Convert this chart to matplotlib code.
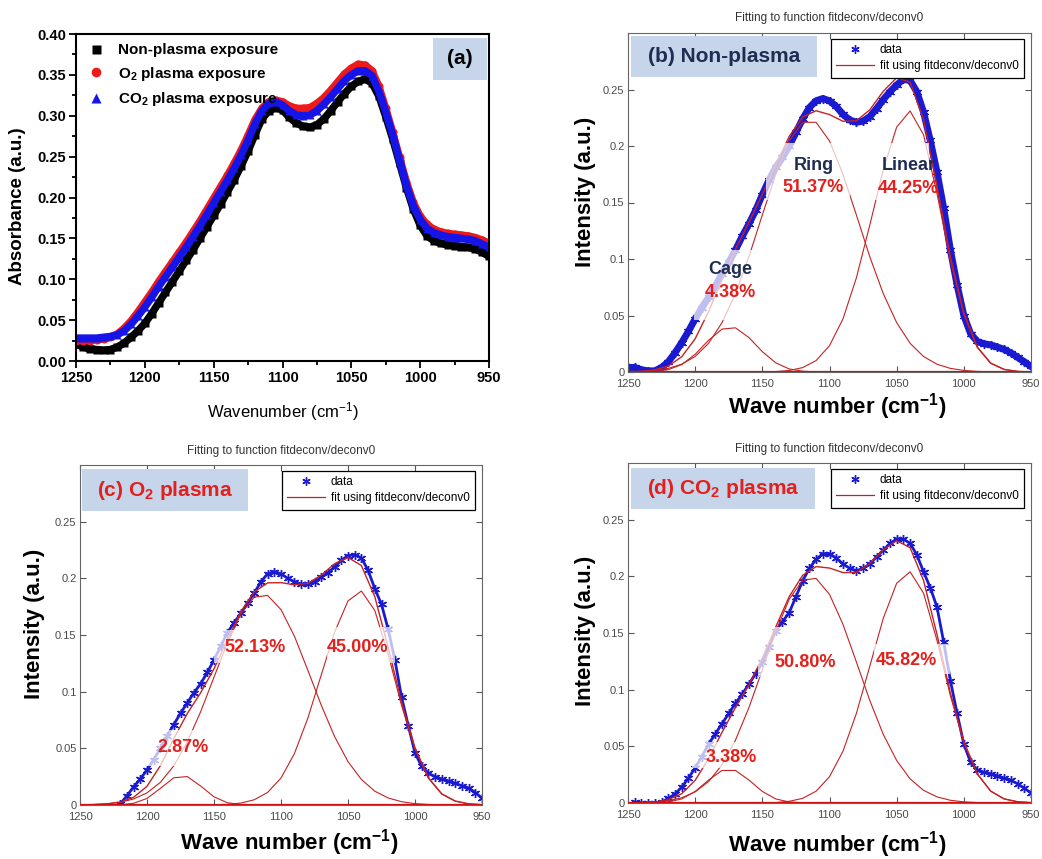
import matplotlib
matplotlib.use("Agg")
import matplotlib.pyplot as plt
from matplotlib.patches import Rectangle
from matplotlib.lines import Line2D
from matplotlib.ticker import MultipleLocator
import numpy as np

plt.rcParams["font.family"] = ["Liberation Sans", "DejaVu Sans"]
plt.rcParams["mathtext.fontset"] = "custom"
plt.rcParams["mathtext.rm"] = "Liberation Sans"
plt.rcParams["mathtext.bf"] = "Liberation Sans:bold"
plt.rcParams["mathtext.it"] = "Liberation Sans:italic"

W, H = 1042, 859

# ---------------- panel (a): absorbance spectra ----------------
WN_A = list(range(1250, 945, -5))
ABS_NON = [
    0.021, 0.017, 0.015, 0.014, 0.013, 0.014, 0.017, 0.022, 0.029, 0.037,
    0.046, 0.058, 0.071, 0.084, 0.097, 0.110, 0.123, 0.136, 0.150, 0.164,
    0.178, 0.192, 0.207, 0.222, 0.239, 0.257, 0.277, 0.296, 0.306, 0.310,
    0.307, 0.298, 0.291, 0.287, 0.286, 0.289, 0.296, 0.306, 0.317, 0.327,
    0.336, 0.342, 0.345, 0.340, 0.324, 0.299, 0.272, 0.242, 0.212, 0.186,
    0.166, 0.153, 0.147, 0.144, 0.142, 0.141, 0.140, 0.139, 0.137, 0.133,
    0.128,
]
ABS_O2 = [
    0.025, 0.025, 0.025, 0.026, 0.027, 0.029, 0.033, 0.040, 0.049, 0.060,
    0.072, 0.084, 0.097, 0.109, 0.121, 0.133, 0.145, 0.158, 0.171, 0.185,
    0.199, 0.213, 0.227, 0.242, 0.258, 0.276, 0.295, 0.309, 0.317, 0.319,
    0.317, 0.312, 0.309, 0.309, 0.310, 0.315, 0.322, 0.331, 0.341, 0.351,
    0.358, 0.363, 0.362, 0.355, 0.336, 0.309, 0.280, 0.249, 0.219, 0.194,
    0.177, 0.167, 0.161, 0.158, 0.156, 0.155, 0.154, 0.153, 0.151, 0.148,
    0.144,
]
ABS_CO2 = [
    0.028, 0.028, 0.028, 0.028, 0.029, 0.030, 0.032, 0.037, 0.045, 0.055,
    0.066, 0.078, 0.091, 0.103, 0.115, 0.127, 0.139, 0.152, 0.165, 0.179,
    0.193, 0.207, 0.221, 0.236, 0.252, 0.270, 0.290, 0.306, 0.315, 0.317,
    0.313, 0.306, 0.301, 0.300, 0.301, 0.306, 0.314, 0.323, 0.333, 0.343,
    0.350, 0.355, 0.355, 0.349, 0.330, 0.305, 0.277, 0.246, 0.215, 0.190,
    0.173, 0.162, 0.157, 0.154, 0.152, 0.151, 0.150, 0.149, 0.147, 0.143,
    0.139,
]

# ---------------- panels (b)-(d): measured data ----------------
WN_B = list(range(1250, 945, -5))
INT_B = [
    0.004, 0.004, 0.002, 0.001, 0.001, 0.004, 0.009, 0.017, 0.026, 0.036,
    0.047, 0.057, 0.066, 0.076, 0.087, 0.097, 0.108, 0.120, 0.131, 0.143,
    0.157, 0.170, 0.181, 0.190, 0.200, 0.212, 0.224, 0.234, 0.240, 0.242,
    0.240, 0.235, 0.228, 0.223, 0.221, 0.222, 0.226, 0.233, 0.241, 0.248,
    0.254, 0.259, 0.258, 0.248, 0.230, 0.205, 0.177, 0.145, 0.108, 0.077,
    0.050, 0.034, 0.027, 0.025, 0.024, 0.022, 0.020, 0.017, 0.013, 0.009,
    0.005,
]
WN_C = list(range(1220, 945, -5))
INT_C = [
    0.001, 0.008, 0.016, 0.023, 0.031, 0.040, 0.050, 0.061, 0.071, 0.081,
    0.090, 0.099, 0.107, 0.117, 0.128, 0.140, 0.152, 0.161, 0.169, 0.178,
    0.187, 0.197, 0.204, 0.206, 0.204, 0.200, 0.197, 0.195, 0.195, 0.197,
    0.201, 0.205, 0.210, 0.216, 0.220, 0.221, 0.218, 0.207, 0.191, 0.177,
    0.155, 0.128, 0.095, 0.070, 0.046, 0.034, 0.028, 0.025, 0.023, 0.021,
    0.019, 0.017, 0.015, 0.011, 0.006,
]
WN_D = list(range(1245, 945, -5))
INT_D = [
    0.001, 0.000, 0.000, 0.000, 0.001, 0.004, 0.008, 0.014, 0.022, 0.031,
    0.041, 0.052, 0.061, 0.070, 0.079, 0.088, 0.096, 0.105, 0.114, 0.124,
    0.138, 0.152, 0.160, 0.168, 0.182, 0.196, 0.207, 0.215, 0.220, 0.220,
    0.216, 0.211, 0.207, 0.205, 0.207, 0.211, 0.217, 0.223, 0.229, 0.233,
    0.233, 0.229, 0.219, 0.204, 0.190, 0.173, 0.142, 0.108, 0.079, 0.052,
    0.036, 0.029, 0.027, 0.026, 0.024, 0.022, 0.020, 0.017, 0.013, 0.009,
]

# ---------------- fitted components (cage / ring / linear) ----------------
WN_FIT = list(range(1250, 945, -10))
CAGE_B = [0.0, 0.0001, 0.0005, 0.0021, 0.0066, 0.0157, 0.0281, 0.0380, 0.0391, 0.0305,
          0.0180, 0.0081, 0.0027, 0.0007, 0.0001] + [0.0] * 16
RING_B = [0.0002, 0.0005, 0.0014, 0.0032, 0.0069, 0.0137, 0.0254, 0.0437, 0.0694, 0.102,
          0.139, 0.175, 0.2045, 0.221, 0.221, 0.2045, 0.175, 0.139, 0.102, 0.0694,
          0.0437, 0.0254, 0.0137, 0.0069, 0.0032, 0.0014, 0.0005, 0.0002, 0.0, 0.0, 0.0]
LINEAR_B = [0.0] * 10 + [0.0001, 0.0004, 0.0013, 0.0039, 0.0101, 0.0233, 0.0469, 0.0833,
                         0.130, 0.179, 0.2167, 0.231, 0.210, 0.158, 0.0986, 0.0509,
                         0.0217, 0.0077, 0.0023, 0.0005, 0.0001]

CAGE_C = [0.0, 0.0, 0.0, 0.0002, 0.0015, 0.0058, 0.0147, 0.0240, 0.0251, 0.0168,
          0.0072, 0.0020, 0.0004, 0.0] + [0.0] * 17
RING_C = [0.0001, 0.0004, 0.0010, 0.0024, 0.0053, 0.0107, 0.0200, 0.0346, 0.0555, 0.0822,
          0.1128, 0.1432, 0.1685, 0.1834, 0.1849, 0.1724, 0.1490, 0.1190, 0.0882, 0.0604,
          0.0383, 0.0225, 0.0122, 0.0062, 0.0029, 0.0012, 0.0005, 0.0002, 0.0001, 0.0, 0.0]
LINEAR_C = [0.0] * 10 + [0.0002, 0.0006, 0.0017, 0.0046, 0.0111, 0.0238, 0.0453, 0.0765,
                         0.1146, 0.1525, 0.1801, 0.1888, 0.1716, 0.1328, 0.0876, 0.0493,
                         0.0236, 0.0096, 0.0034, 0.0010, 0.0003]

CAGE_D = [0.0, 0.0, 0.0002, 0.0009, 0.0036, 0.0102, 0.0203, 0.0287, 0.0287, 0.0203,
          0.0102, 0.0036, 0.0009, 0.0002] + [0.0] * 17
RING_D = [0.0001, 0.0003, 0.0008, 0.0020, 0.0046, 0.0098, 0.0189, 0.0337, 0.0555, 0.0841,
          0.1175, 0.1514, 0.1797, 0.1966, 0.1982, 0.1841, 0.1577, 0.1245, 0.0905, 0.0606,
          0.0375, 0.0213, 0.0112, 0.0054, 0.0024, 0.0010, 0.0004, 0.0001, 0.0, 0.0, 0.0]
LINEAR_D = [0.0] * 10 + [0.0001, 0.0004, 0.0015, 0.0041, 0.0104, 0.0232, 0.0456, 0.0790,
                         0.1207, 0.1628, 0.1939, 0.2040, 0.1852, 0.1434, 0.0946, 0.0532,
                         0.0255, 0.0104, 0.0036, 0.0011, 0.0003]

PERCENT_B = ["4.38%", "51.37%", "44.25%"]
PERCENT_C = ["2.87%", "52.13%", "45.00%"]
PERCENT_D = ["3.38%", "50.80%", "45.82%"]
BAND_NAMES = ["Cage", "Ring", "Linear"]

X_TICKS = [1250, 1200, 1150, 1100, 1050, 1000, 950]
Y_TICKS_FIT = [0, 0.05, 0.1, 0.15, 0.2, 0.25]
Y_TICKLABELS_FIT = ["0", "0.05", "0.1", "0.15", "0.2", "0.25"]

NAVY = "#1f2d52"
RED_TXT = "#e3201c"
BOX_BLUE = "#c6d5ea"
FIT_RED = "#c42222"
DATA_BLUE = "#1a1ad0"

fig = plt.figure(figsize=(W / 100, H / 100), dpi=100)


def axes_px(left, top, right, bottom):
    return fig.add_axes([left / W, 1 - bottom / H, (right - left) / W, (bottom - top) / H])


def fig_text(x, y, s, **kw):
    return fig.text(x / W, 1 - y / H, s, **kw)


def fig_box(left, top, right, bottom, color):
    fig.add_artist(Rectangle((left / W, 1 - bottom / H), (right - left) / W, (bottom - top) / H,
                             transform=fig.transFigure, facecolor=color, edgecolor="none",
                             zorder=5))


# ---------------- panel (a) ----------------
ax = axes_px(76, 34, 489, 361)
series_a = [
    (ABS_NON, "s", "black", 5.4, "Non-plasma exposure"),
    (ABS_O2, "o", "#ee1a1a", 5.8, r"O$_\mathbf{2}$ plasma exposure"),
    (ABS_CO2, "^", "#1515e8", 6.0, r"CO$_\mathbf{2}$ plasma exposure"),
]
for values, marker, color, ms, label in series_a:
    # dense spectra read as a continuous band of markers
    ax.plot(WN_A, values, "-", color=color, lw=5.4, solid_joinstyle="round")
    ax.plot(WN_A, values, marker, color=color, ms=ms, mec="none", label=label)
ax.set_xlim(1250, 950)
ax.set_ylim(0, 0.40)
ax.set_xticks(X_TICKS)
ax.set_xticklabels([str(v) for v in X_TICKS], fontweight="bold", fontsize=10.5)
a_yticks = [0.0, 0.05, 0.10, 0.15, 0.20, 0.25, 0.30, 0.35, 0.40]
ax.set_yticks(a_yticks)
ax.set_yticklabels([f"{v:.2f}" for v in a_yticks], fontweight="bold", fontsize=10.5)
ax.xaxis.set_minor_locator(MultipleLocator(25))
ax.yaxis.set_minor_locator(MultipleLocator(0.025))
ax.tick_params(which="both", direction="out", top=False, right=False, width=1.3, pad=2)
ax.tick_params(which="major", length=5)
ax.tick_params(which="minor", length=3)
for sp in ax.spines.values():
    sp.set_linewidth(1.5)
leg = ax.legend(loc="upper left", frameon=False, prop=dict(weight="bold", size=11),
                handletextpad=0.75, labelspacing=0.5, borderaxespad=0.2,
                handlelength=1.4, markerscale=1.2)
fig_box(433, 38, 487, 80, BOX_BLUE)
fig_text(460, 59, "(a)", fontsize=15, fontweight="bold", ha="center", va="center", zorder=6)
fig_text(18, 206, "Absorbance (a.u.)", fontsize=13.5, fontweight="bold", rotation=90,
         ha="center", va="center")
fig_text(283, 412, r"Wavenumber (cm$^{-1}$)", fontsize=12, ha="center", va="center")


# ---------------- panels (b)-(d) ----------------
def fit_panel(rect, wn, data, band_lw, cage, ring, linear, label, label_color, label_box,
              title_y, xlabel_y, ylabel_x, ylabel_y, texts, shades):
    left, top, right, bottom = rect
    ax = axes_px(*rect)
    ax.plot(wn, data, "-", color=DATA_BLUE, lw=band_lw, zorder=2)
    ax.plot(wn, data, linestyle="none", marker=(6, 2, 0), color=DATA_BLUE, ms=6.5, mew=1.0,
            zorder=2)
    cage = np.array(cage)
    ring = np.array(ring)
    linear = np.array(linear)
    ax.plot(WN_FIT, cage + ring + linear, color=FIT_RED, lw=1.0, zorder=3)
    for comp in (cage, ring, linear):
        ax.plot(WN_FIT, comp, color=FIT_RED, lw=0.8, zorder=3)
    ax.axhline(0, color="#d01010", lw=1.6, zorder=3)
    ax.set_xlim(1250, 950)
    ax.set_ylim(0, 0.3)
    ax.set_xticks(X_TICKS)
    ax.set_xticklabels([str(v) for v in X_TICKS])
    ax.set_yticks(Y_TICKS_FIT)
    ax.set_yticklabels(Y_TICKLABELS_FIT)
    ax.tick_params(direction="in", top=True, right=True, length=4, width=0.8,
                   labelsize=8, labelcolor="#4a4a4a", color="#555555")
    ax.tick_params(axis="x", pad=5)
    ax.tick_params(axis="y", pad=2.5)
    for sp in ax.spines.values():
        sp.set_color("#666666")
        sp.set_linewidth(0.8)

    for (x0, x1, y0, y1) in shades:
        ax.add_patch(Rectangle((x1, y0), x0 - x1, y1 - y0, facecolor="white",
                               edgecolor="none", alpha=0.72, zorder=4))
    for (x, y, s, c) in texts:
        ax.text(x, y, s, color=c, fontsize=13, fontweight="bold", ha="center",
                va="center", zorder=6)

    handles = [
        Line2D([], [], linestyle="none", marker=(6, 2, 0), color=DATA_BLUE, ms=6, mew=1.0),
        Line2D([], [], color=FIT_RED, lw=0.9),
    ]
    lg = ax.legend(handles, ["data", "fit using fitdeconv/deconv0"], loc="upper right",
                   bbox_to_anchor=(1 - 7 / (right - left), 1 - 6 / (bottom - top)),
                   borderaxespad=0, fontsize=8.5, fancybox=False, framealpha=1,
                   edgecolor="black", handlelength=3.2, handletextpad=0.5,
                   borderpad=0.45, labelspacing=0.35)
    lg.get_frame().set_linewidth(0.9)
    lg.set_zorder(7)

    cx = (left + right) / 2
    fig_text(cx, title_y, "Fitting to function fitdeconv/deconv0", fontsize=8.5,
             color="#333333", ha="center", va="center")
    fig_box(*label_box, BOX_BLUE)
    fig_text((label_box[0] + label_box[2]) / 2, (label_box[1] + label_box[3]) / 2, label,
             fontsize=15, fontweight="bold", color=label_color, ha="center", va="center",
             zorder=6)
    fig_text(cx + 8, xlabel_y, r"Wave number (cm$^\mathbf{-1}$)", fontsize=16,
             fontweight="bold", ha="center", va="center")
    fig_text(ylabel_x, ylabel_y, "Intensity (a.u.)", fontsize=16, fontweight="bold",
             rotation=90, ha="center", va="center")
    return ax


fit_panel((628, 33, 1031, 372), WN_B, INT_B, 5.0, CAGE_B, RING_B, LINEAR_B,
          "(b) Non-plasma", NAVY, (631, 36, 817, 77),
          title_y=18, xlabel_y=407, ylabel_x=585, ylabel_y=192,
          texts=[(1174, 0.091, BAND_NAMES[0], NAVY), (1174, 0.070, PERCENT_B[0], RED_TXT),
                 (1112, 0.183, BAND_NAMES[1], NAVY), (1112, 0.163, PERCENT_B[1], RED_TXT),
                 (1041, 0.183, BAND_NAMES[2], NAVY), (1041, 0.162, PERCENT_B[2], RED_TXT)],
          shades=[(1201, 1153, 0.046, 0.108), (1147, 1085, 0.152, 0.203),
                  (1077, 1026, 0.152, 0.203)])

fit_panel((80, 465, 482, 805), WN_C, INT_C, 2.0, CAGE_C, RING_C, LINEAR_C,
          r"(c) O$_\mathbf{2}$ plasma", RED_TXT, (82, 469, 248, 511),
          title_y=451, xlabel_y=843, ylabel_x=35, ylabel_y=624,
          texts=[(1173, 0.051, PERCENT_C[0], RED_TXT), (1119, 0.139, PERCENT_C[1], RED_TXT),
                 (1043, 0.139, PERCENT_C[2], RED_TXT)],
          shades=[(1205, 1150, 0.034, 0.066), (1150, 1093, 0.125, 0.154),
                  (1066, 1015, 0.125, 0.157)])

fit_panel((628, 463, 1031, 803), WN_D, INT_D, 2.0, CAGE_D, RING_D, LINEAR_D,
          r"(d) CO$_\mathbf{2}$ plasma", RED_TXT, (631, 468, 815, 509),
          title_y=449, xlabel_y=845, ylabel_x=585, ylabel_y=631,
          texts=[(1173.5, 0.040, PERCENT_D[0], RED_TXT), (1118, 0.124, PERCENT_D[1], RED_TXT),
                 (1042.5, 0.126, PERCENT_D[2], RED_TXT)],
          shades=[(1202, 1152, 0.031, 0.054), (1153, 1092, 0.111, 0.155),
                  (1067, 1010, 0.114, 0.140)])

fig.savefig("out.png", dpi=100)
